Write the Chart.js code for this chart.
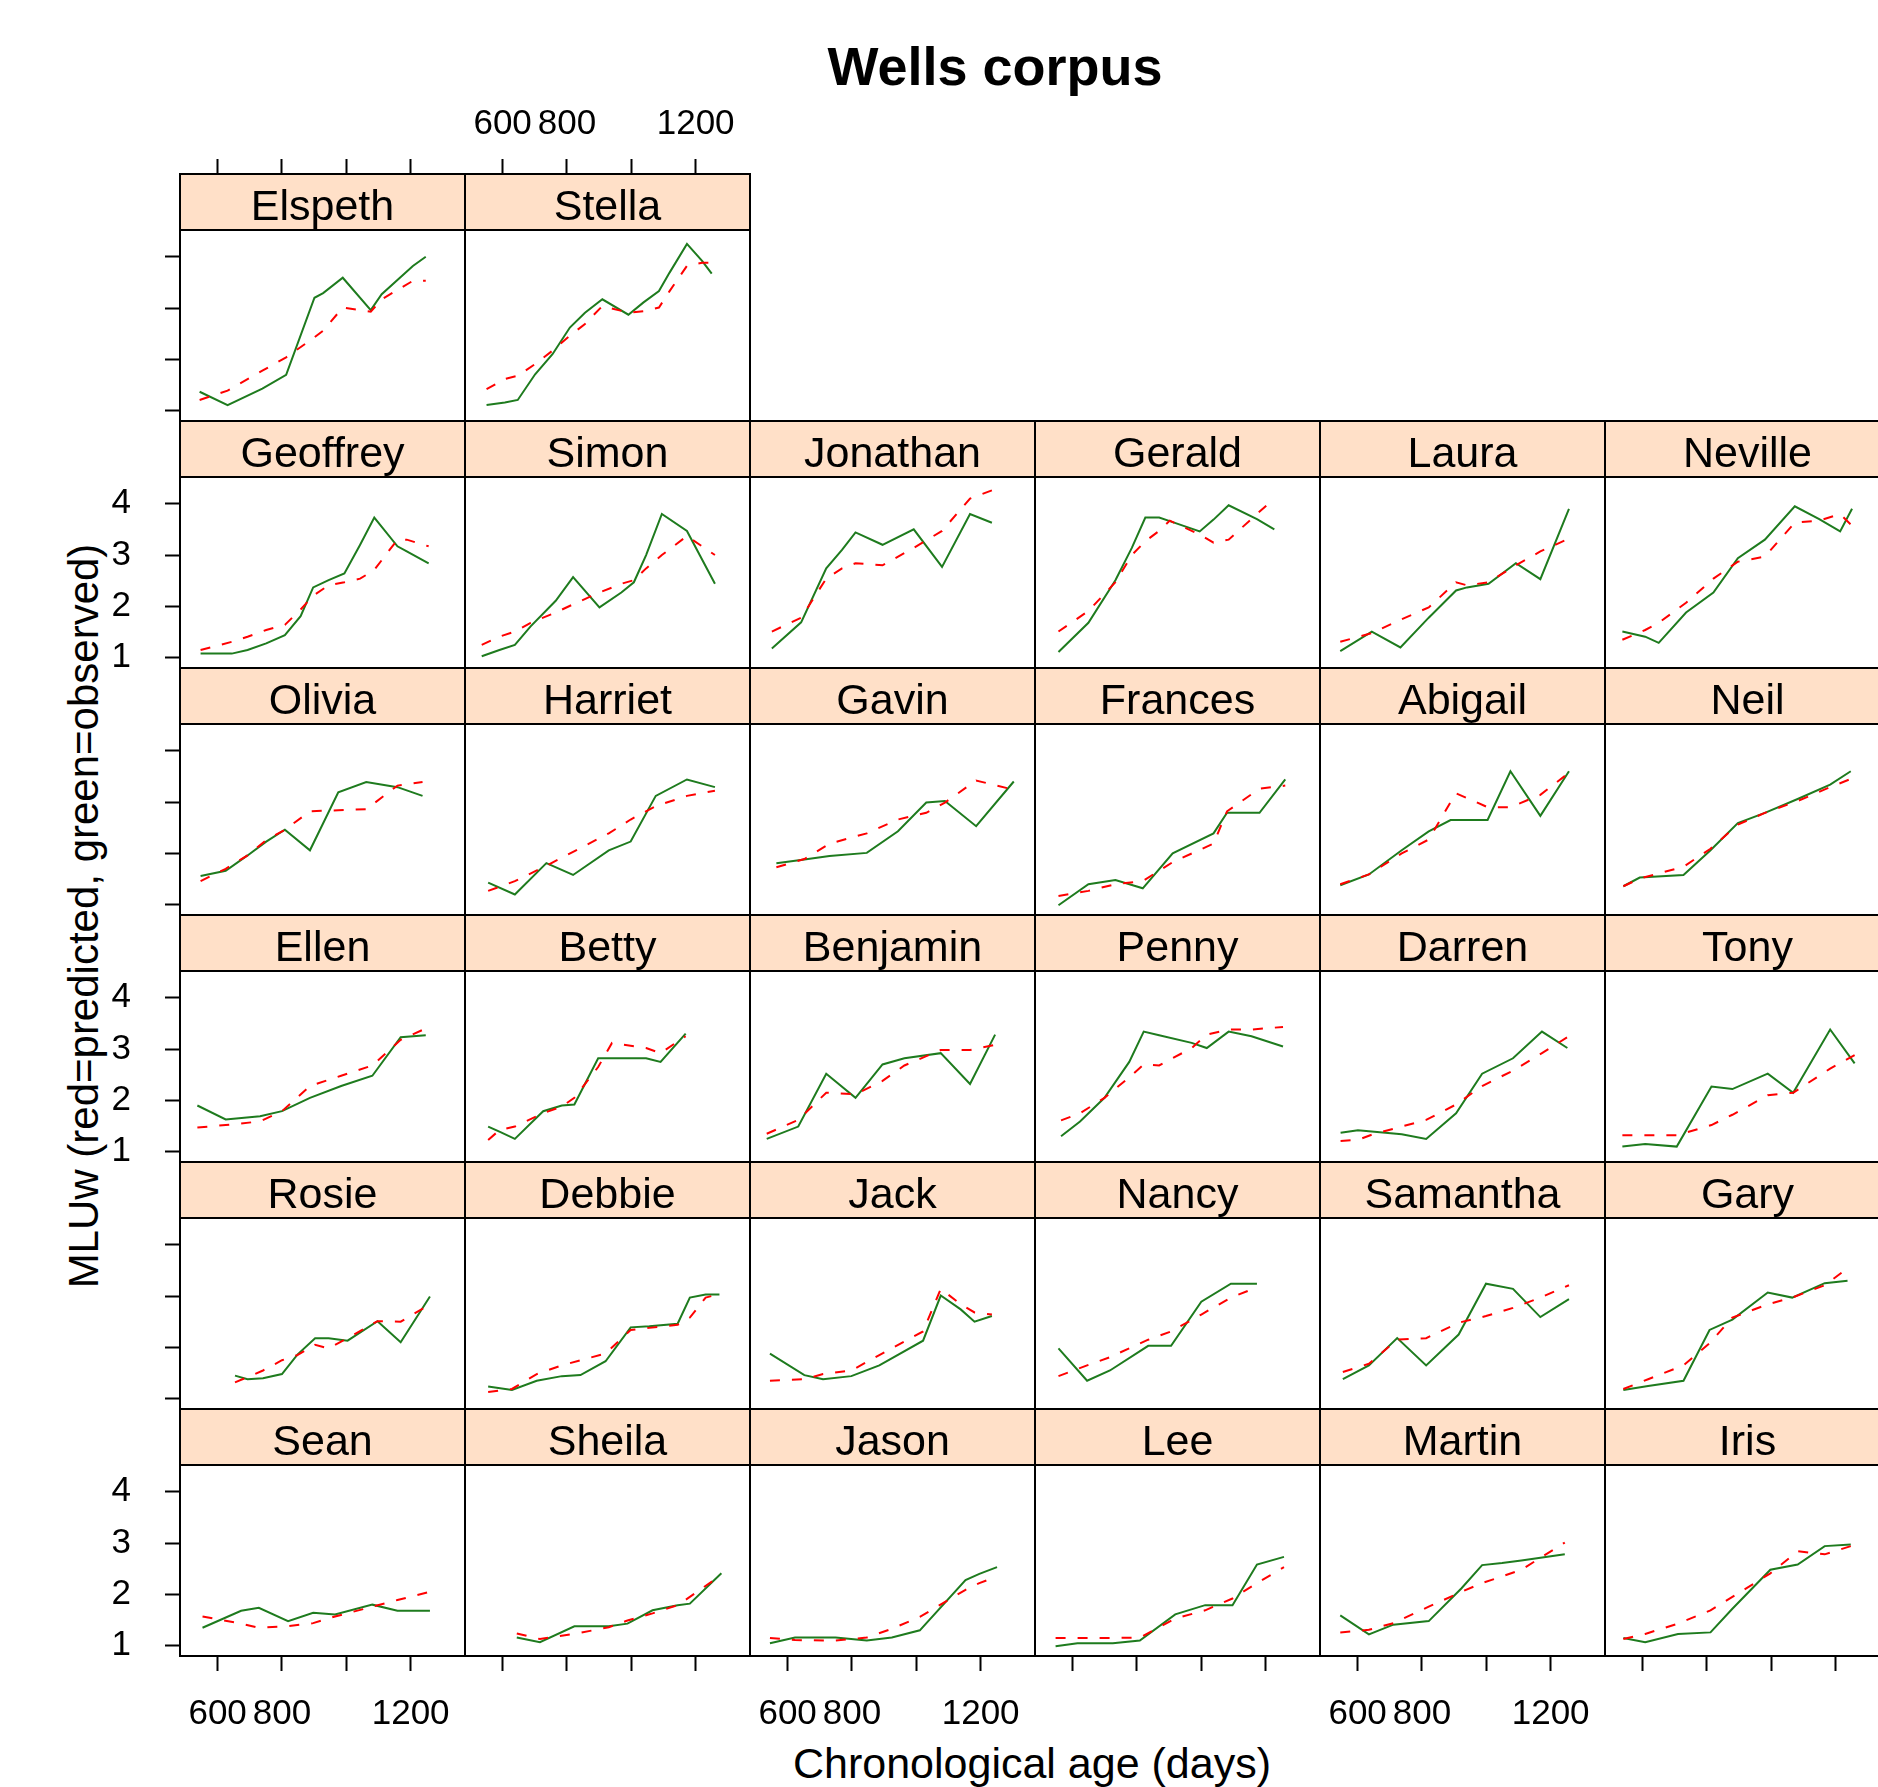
<!DOCTYPE html>
<html>
<head>
<meta charset="utf-8">
<title>Wells corpus</title>
<script src="https://cdn.jsdelivr.net/npm/chart.js@4.4.1/dist/chart.umd.min.js"></script>
<style>
  body { margin: 0; width: 1878px; height: 1787px; overflow: hidden; background: #fff; position: relative;
         font-family: 'Liberation Sans', Arial, sans-serif; }
  canvas { position: absolute; }
  .lbl { position: absolute; white-space: nowrap; color: #000; }
  #title { left: 995px; top: 66px; transform: translate(-50%, -50%); font-weight: bold; font-size: 54px; }
  #xlab { left: 1032px; top: 1763px; transform: translate(-50%, -50%); font-size: 43px; }
  #ylab { left: 84px; top: 916px; transform: translate(-50%, -50%) rotate(-90deg); font-size: 42px; }
</style>
</head>
<body>
<div id="title" class="lbl">Wells corpus</div>
<div id="ylab" class="lbl">MLUw (red=predicted, green=observed)</div>
<div id="xlab" class="lbl">Chronological age (days)</div>
<script>
// panel order: top row first, then left to right
const children = ['Elspeth', 'Stella',
  'Geoffrey', 'Simon', 'Jonathan', 'Gerald', 'Laura', 'Neville',
  'Olivia', 'Harriet', 'Gavin', 'Frances', 'Abigail', 'Neil',
  'Ellen', 'Betty', 'Benjamin', 'Penny', 'Darren', 'Tony',
  'Rosie', 'Debbie', 'Jack', 'Nancy', 'Samantha', 'Gary',
  'Sean', 'Sheila', 'Jason', 'Lee', 'Martin', 'Iris'];

// age in days at each recording
const ages = [
  [544, 631, 739, 813, 901, 928, 989, 1076, 1110, 1207, 1247],
  [550, 607, 647, 701, 755, 809, 856, 910, 991, 1038, 1086, 1119, 1173, 1220, 1250],
  [547, 644, 693, 751, 809, 858, 897, 945, 994, 1043, 1087, 1159, 1188, 1256],
  [535, 590, 638, 687, 765, 819, 901, 969, 1008, 1046, 1095, 1173, 1260],
  [551, 642, 720, 769, 811, 895, 992, 1080, 1167, 1235],
  [556, 649, 733, 784, 826, 869, 902, 995, 1038, 1085, 1173, 1227],
  [546, 644, 733, 821, 906, 940, 1007, 1092, 1168, 1257],
  [537, 608, 650, 735, 820, 896, 980, 1073, 1149, 1214, 1251],
  [547, 625, 693, 751, 809, 887, 975, 1062, 1159, 1237],
  [555, 638, 736, 819, 930, 998, 1076, 1173, 1260],
  [565, 652, 730, 846, 943, 1031, 1089, 1186, 1303],
  [556, 649, 733, 818, 911, 1038, 1080, 1181, 1261],
  [546, 635, 737, 821, 889, 906, 1004, 1075, 1168, 1257],
  [540, 591, 727, 811, 896, 980, 1082, 1183, 1247],
  [537, 625, 732, 800, 887, 984, 1081, 1169, 1247],
  [555, 590, 638, 726, 784, 823, 897, 940, 1046, 1091, 1169],
  [535, 633, 720, 811, 895, 963, 1076, 1167, 1245],
  [564, 623, 699, 776, 821, 869, 970, 1017, 1085, 1156, 1254],
  [547, 601, 652, 737, 813, 906, 987, 1083, 1173, 1252],
  [537, 608, 706, 814, 879, 989, 1068, 1183, 1259],
  [654, 693, 741, 800, 848, 903, 945, 1004, 1097, 1169, 1260],
  [555, 629, 706, 784, 842, 920, 998, 1056, 1144, 1182, 1231, 1274],
  [545, 652, 710, 798, 885, 1021, 1076, 1138, 1181, 1235],
  [556, 645, 716, 835, 906, 1000, 1092, 1173],
  [554, 635, 723, 813, 914, 999, 1083, 1168, 1257],
  [540, 617, 727, 808, 879, 989, 1065, 1166, 1237],
  [553, 673, 728, 819, 897, 965, 1081, 1159, 1260],
  [644, 716, 823, 930, 988, 1066, 1144, 1182, 1280],
  [545, 623, 749, 846, 924, 1011, 1153, 1196, 1251],
  [547, 615, 725, 809, 919, 1012, 1097, 1173, 1257],
  [546, 635, 711, 821, 923, 987, 1049, 1109, 1244],
  [540, 608, 710, 811, 879, 997, 1082, 1166, 1247]
];

// observed MLUw (green)
const observed = [
  [1.37, 1.11, 1.43, 1.70, 3.20, 3.29, 3.59, 2.96, 3.27, 3.82, 4.00],
  [1.11, 1.16, 1.21, 1.71, 2.10, 2.62, 2.91, 3.17, 2.87, 3.11, 3.33, 3.69, 4.25, 3.92, 3.67],
  [1.08, 1.08, 1.15, 1.28, 1.44, 1.81, 2.37, 2.51, 2.64, 3.20, 3.73, 3.17, 3.07, 2.84],
  [1.03, 1.15, 1.25, 1.61, 2.11, 2.57, 1.98, 2.27, 2.47, 3.00, 3.80, 3.47, 2.44],
  [1.18, 1.69, 2.74, 3.10, 3.44, 3.20, 3.50, 2.77, 3.80, 3.63],
  [1.11, 1.68, 2.51, 3.14, 3.73, 3.73, 3.66, 3.46, 3.69, 3.97, 3.70, 3.50],
  [1.13, 1.51, 1.20, 1.78, 2.31, 2.37, 2.44, 2.84, 2.53, 3.90],
  [1.51, 1.41, 1.29, 1.88, 2.27, 2.94, 3.30, 3.95, 3.70, 3.46, 3.90],
  [1.56, 1.66, 1.96, 2.23, 2.46, 2.06, 3.19, 3.39, 3.29, 3.12],
  [1.43, 1.20, 1.81, 1.58, 2.06, 2.23, 3.12, 3.44, 3.29],
  [1.81, 1.88, 1.95, 2.01, 2.43, 2.99, 3.02, 2.53, 3.40],
  [0.99, 1.40, 1.48, 1.32, 2.00, 2.39, 2.79, 2.79, 3.44],
  [1.38, 1.59, 2.06, 2.43, 2.65, 2.65, 2.65, 3.60, 2.73, 3.60],
  [1.36, 1.53, 1.58, 2.06, 2.59, 2.79, 3.06, 3.34, 3.60],
  [1.90, 1.63, 1.69, 1.79, 2.05, 2.28, 2.48, 3.23, 3.27],
  [1.49, 1.39, 1.25, 1.79, 1.90, 1.92, 2.82, 2.82, 2.82, 2.75, 3.30],
  [1.25, 1.49, 2.52, 2.05, 2.70, 2.82, 2.92, 2.32, 3.28],
  [1.30, 1.59, 2.05, 2.75, 3.34, 3.27, 3.12, 3.02, 3.34, 3.25, 3.05],
  [1.37, 1.42, 1.39, 1.34, 1.25, 1.75, 2.52, 2.82, 3.34, 3.02],
  [1.10, 1.15, 1.10, 2.27, 2.22, 2.52, 2.15, 3.38, 2.72],
  [1.45, 1.38, 1.40, 1.48, 1.86, 2.18, 2.18, 2.13, 2.51, 2.10, 2.99],
  [1.24, 1.17, 1.35, 1.44, 1.46, 1.73, 2.39, 2.41, 2.46, 2.97, 3.03, 3.03],
  [1.88, 1.46, 1.38, 1.44, 1.65, 2.13, 3.01, 2.74, 2.50, 2.61],
  [1.98, 1.35, 1.55, 2.03, 2.03, 2.89, 3.24, 3.24],
  [1.38, 1.65, 2.18, 1.65, 2.25, 3.24, 3.14, 2.59, 2.94],
  [1.17, 1.25, 1.35, 2.34, 2.54, 3.07, 2.97, 3.25, 3.30],
  [1.35, 1.68, 1.74, 1.48, 1.64, 1.61, 1.80, 1.68, 1.68],
  [1.16, 1.07, 1.38, 1.38, 1.43, 1.69, 1.79, 1.82, 2.41],
  [1.05, 1.16, 1.16, 1.10, 1.16, 1.30, 2.28, 2.40, 2.53],
  [0.99, 1.05, 1.05, 1.10, 1.61, 1.79, 1.79, 2.58, 2.73],
  [1.59, 1.22, 1.41, 1.48, 2.12, 2.57, 2.61, 2.66, 2.78],
  [1.15, 1.07, 1.23, 1.26, 1.72, 2.48, 2.58, 2.94, 2.97]
];

// predicted MLUw (red, dashed)
const predicted = [
  [1.21, 1.39, 1.78, 2.04, 2.43, 2.56, 3.01, 2.93, 3.17, 3.53, 3.53],
  [1.42, 1.62, 1.68, 1.91, 2.17, 2.46, 2.69, 3.04, 2.91, 2.94, 3.01, 3.33, 3.82, 3.88, 3.88],
  [1.15, 1.31, 1.41, 1.54, 1.64, 1.94, 2.21, 2.41, 2.47, 2.54, 2.71, 3.30, 3.30, 3.17],
  [1.25, 1.41, 1.51, 1.68, 1.88, 2.04, 2.27, 2.44, 2.51, 2.74, 3.00, 3.37, 3.00],
  [1.51, 1.78, 2.54, 2.74, 2.84, 2.80, 3.14, 3.47, 4.10, 4.26],
  [1.51, 1.91, 2.47, 3.00, 3.27, 3.47, 3.67, 3.40, 3.24, 3.30, 3.80, 4.10],
  [1.31, 1.48, 1.74, 1.98, 2.47, 2.41, 2.47, 2.80, 3.07, 3.32],
  [1.35, 1.54, 1.68, 2.07, 2.54, 2.87, 2.97, 3.63, 3.67, 3.80, 3.57],
  [1.46, 1.70, 1.96, 2.26, 2.46, 2.82, 2.84, 2.86, 3.32, 3.39],
  [1.27, 1.46, 1.76, 2.03, 2.39, 2.66, 2.92, 3.12, 3.22],
  [1.73, 1.89, 2.19, 2.39, 2.66, 2.79, 2.99, 3.42, 3.24],
  [1.17, 1.27, 1.40, 1.46, 1.83, 2.19, 2.82, 3.26, 3.32],
  [1.40, 1.59, 2.00, 2.27, 3.00, 3.17, 2.90, 2.90, 3.14, 3.57],
  [1.36, 1.51, 1.74, 2.09, 2.56, 2.79, 3.02, 3.29, 3.45],
  [1.47, 1.52, 1.59, 1.79, 2.28, 2.48, 2.68, 3.18, 3.40],
  [1.23, 1.42, 1.49, 1.75, 1.88, 2.05, 2.65, 3.12, 3.02, 2.92, 3.25],
  [1.35, 1.62, 2.15, 2.12, 2.38, 2.68, 2.98, 2.98, 3.08],
  [1.61, 1.75, 2.05, 2.45, 2.70, 2.68, 3.02, 3.28, 3.38, 3.38, 3.43],
  [1.21, 1.23, 1.35, 1.49, 1.62, 1.92, 2.28, 2.58, 2.92, 3.23],
  [1.32, 1.32, 1.32, 1.52, 1.72, 2.10, 2.15, 2.62, 2.88],
  [1.32, 1.42, 1.55, 1.75, 1.85, 2.05, 1.98, 2.18, 2.51, 2.50, 2.84],
  [1.13, 1.19, 1.48, 1.65, 1.75, 1.88, 2.34, 2.38, 2.44, 2.58, 2.97, 3.04],
  [1.35, 1.38, 1.48, 1.55, 1.85, 2.31, 3.14, 2.84, 2.68, 2.64],
  [1.44, 1.65, 1.81, 2.15, 2.31, 2.64, 2.97, 3.17],
  [1.52, 1.68, 2.15, 2.18, 2.48, 2.61, 2.77, 2.97, 3.21],
  [1.19, 1.38, 1.65, 2.08, 2.58, 2.84, 2.97, 3.21, 3.54],
  [1.57, 1.43, 1.35, 1.38, 1.44, 1.57, 1.76, 1.89, 2.05],
  [1.24, 1.13, 1.23, 1.36, 1.49, 1.63, 1.79, 1.95, 2.38],
  [1.15, 1.11, 1.10, 1.16, 1.33, 1.56, 2.09, 2.22, 2.35],
  [1.15, 1.15, 1.15, 1.16, 1.53, 1.69, 1.92, 2.22, 2.53],
  [1.26, 1.31, 1.44, 1.76, 2.05, 2.22, 2.35, 2.48, 3.01],
  [1.13, 1.23, 1.43, 1.69, 1.95, 2.41, 2.84, 2.78, 2.94]
];

const xTicks = [600, 800, 1000, 1200];
const xTickLabels = ['600', '800', '', '1200'];
const yTicks = [1, 2, 3, 4];

const FONT = "'Liberation Sans', Arial, sans-serif";
const PANEL_W = 285, STRIP_H = 56, PANEL_H = 191, ROW_H = STRIP_H + PANEL_H;
const LEFT0 = 180, TOP0 = 174;
const Y_AXIS_W = 80, TOP_AXIS_H = 74, BOTTOM_AXIS_H = 80, M = 2;

// peach strip behind the title box, black frame round strip and panel
const stripFrame = {
  id: 'stripFrame',
  beforeDraw(chart) {
    const a = chart.chartArea, ctx = chart.ctx;
    ctx.save();
    ctx.fillStyle = '#ffe0c8';
    ctx.fillRect(a.left, a.top - STRIP_H, a.right - a.left, STRIP_H);
    ctx.restore();
  },
  afterDraw(chart) {
    const a = chart.chartArea, ctx = chart.ctx;
    ctx.save();
    ctx.strokeStyle = '#000';
    ctx.lineWidth = 2;
    ctx.strokeRect(a.left, a.top - STRIP_H, a.right - a.left, STRIP_H);
    ctx.strokeRect(a.left, a.top, a.right - a.left, a.bottom - a.top);
    ctx.restore();
  }
};

function tickGrid() {
  return { drawOnChartArea: false, drawTicks: true, tickLength: 15, tickWidth: 2, tickColor: '#000' };
}

children.forEach((name, k) => {
  const row = k < 2 ? 0 : 1 + Math.floor((k - 2) / 6);
  const col = k < 2 ? k : (k - 2) % 6;
  const hasLeft = col === 0;
  const hasTop = row === 0;
  const hasBottom = row === 5;
  const showX = hasTop ? col % 2 === 1 : col % 2 === 0;
  const showY = row % 2 === 1;

  const padL = hasLeft ? Y_AXIS_W : 0;
  const padT = hasTop ? TOP_AXIS_H : 0;
  const padB = hasBottom ? BOTTOM_AXIS_H : 0;
  const w = PANEL_W + padL + 2 * M;
  const h = ROW_H + padT + padB + 2 * M;

  const canvas = document.createElement('canvas');
  canvas.width = w;
  canvas.height = h;
  canvas.style.width = w + 'px';
  canvas.style.height = h + 'px';
  canvas.style.left = (LEFT0 + col * PANEL_W - padL - M) + 'px';
  canvas.style.top = (TOP0 + row * ROW_H - padT - M) + 'px';
  document.body.appendChild(canvas);

  const obs = ages[k].map((a, i) => ({ x: a, y: observed[k][i] }));
  const pred = ages[k].map((a, i) => ({ x: a, y: predicted[k][i] }));

  new Chart(canvas.getContext('2d'), {
    type: 'line',
    data: {
      datasets: [
        { label: 'predicted', data: pred, borderColor: '#ff0000', borderWidth: 2,
          borderDash: [10, 12], pointRadius: 0, tension: 0, fill: false },
        { label: 'observed', data: obs, borderColor: '#1e7b1e', borderWidth: 2,
          pointRadius: 0, tension: 0, fill: false }
      ]
    },
    options: {
      responsive: false,
      animation: false,
      events: [],
      layout: { padding: M },
      plugins: {
        legend: { display: false },
        tooltip: { enabled: false },
        title: {
          display: true, text: name, fullSize: false, position: 'top', color: '#000',
          font: { family: FONT, size: 43, weight: 'normal', lineHeight: '44px' },
          padding: { top: 12, bottom: 0 }
        }
      },
      scales: {
        x: {
          type: 'linear', min: 483, max: 1369,
          display: hasTop || hasBottom,
          position: hasTop ? 'top' : 'bottom',
          weight: hasTop ? 3000 : 0,
          afterBuildTicks: s => { s.ticks = xTicks.map(v => ({ value: v })); },
          afterFit: s => {
            if (hasTop || hasBottom) s.height = hasTop ? TOP_AXIS_H : BOTTOM_AXIS_H;
            s.paddingLeft = 0;
            s.paddingRight = 0;
          },
          grid: tickGrid(),
          border: { display: false },
          ticks: {
            autoSkip: false, maxRotation: 0, minRotation: 0,
            padding: hasTop ? 14 : 22, color: '#000',
            font: { family: FONT, size: 35 },
            callback: v => showX ? xTickLabels[xTicks.indexOf(v)] : ''
          }
        },
        y: {
          type: 'linear', min: 0.8, max: 4.52,
          display: hasLeft,
          position: 'left',
          afterBuildTicks: s => { s.ticks = yTicks.map(v => ({ value: v })); },
          afterFit: s => {
            if (hasLeft) s.width = Y_AXIS_W;
            s.paddingTop = 0;
            s.paddingBottom = 0;
          },
          grid: tickGrid(),
          border: { display: false },
          ticks: {
            autoSkip: false, padding: 34, color: '#000',
            font: { family: FONT, size: 35 },
            callback: v => showY ? String(v) : ''
          }
        }
      }
    },
    plugins: [stripFrame]
  });
});
</script>
</body>
</html>
